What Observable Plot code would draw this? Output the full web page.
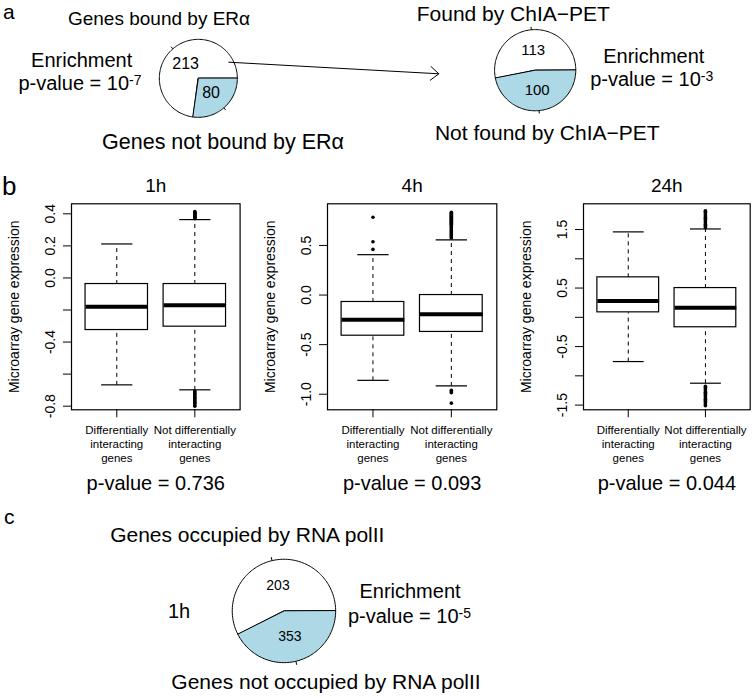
<!DOCTYPE html>
<html>
<head>
<meta charset="utf-8">
<script src="https://cdn.jsdelivr.net/npm/d3@7"></script>
<script src="https://cdn.jsdelivr.net/npm/@observablehq/plot@0.6"></script>
<style>
  html, body { margin: 0; padding: 0; background: #fff; }
  #fig { position: relative; width: 755px; height: 698px; overflow: hidden;
         font-family: "Liberation Sans", Arial, sans-serif; color: #000; background: #fff; }
  .lbl { position: absolute; white-space: nowrap; line-height: 1; }
  .sup { font-size: 14px; position: relative; top: -5px; }
  #fig svg { position: absolute; }
</style>
</head>
<body>
<div id="fig"></div>
<script>
// ---------------- data ----------------
const pieACounts = [213, 80];
const pieATexts = ["Genes bound by ERα", "Genes not bound by ERα"];
const pieBCounts = [113, 100];
const pieBTexts = ["Found by ChIA−PET", "Not found by ChIA−PET"];
const pieCCounts = [203, 353];          // numbers printed in the slices
const pieCShares = [0.574, 0.426];      // slice sizes as drawn in the figure
const pieCTexts = ["Genes occupied by RNA polII", "Genes not occupied by RNA polII"];
const pieCTime = "1h";
const sliceColors = ["white", "lightblue"];
const enrichmentExponents = ["-7", "-3", "-5"];

const timepoints = ["1h", "4h", "24h"];
const groups = ["Differentially\ninteracting\ngenes", "Not differentially\ninteracting\ngenes"];
const pValues = ["0.736", "0.093", "0.044"];
const yTitle = "Microarray gene expression";

// [lower whisker, Q1, median, Q3, upper whisker] for each group
const box1h  = [[-0.667, -0.325, -0.179, -0.038, 0.212], [-0.698, -0.304, -0.171, -0.038, 0.364]];
const box4h  = [[-0.860, -0.410, -0.248, -0.070, 0.407], [-0.916, -0.372, -0.194, 0.000, 0.557]];
const box24h = [[-0.756, 0.085, 0.280, 0.683, 1.460], [-1.126, -0.170, 0.165, 0.500, 1.510]];

// outliers for each group
const out1h = [[], [0.370, 0.374, 0.378, 0.382, 0.386, 0.390, 0.394, 0.398, 0.402, 0.406, 0.410, 0.414,
                    -0.705, -0.712, -0.720, -0.728, -0.736, -0.744, -0.752, -0.760, -0.768, -0.776, -0.784, -0.792, -0.800]];
const out4h = [[0.785, 0.537, 0.460],
               [0.575, 0.585, 0.595, 0.605, 0.615, 0.625, 0.635, 0.645, 0.655, 0.665, 0.675, 0.685, 0.695, 0.705,
                0.715, 0.725, 0.735, 0.745, 0.755, 0.765, 0.775, 0.785, 0.795, 0.805, 0.815, 0.825, 0.835,
                -0.960, -0.975, -0.985, -1.090]];
const out24h = [[], [1.53, 1.55, 1.57, 1.59, 1.61, 1.63, 1.65, 1.67, 1.69, 1.71, 1.73, 1.75, 1.77, 1.79, 1.81, 1.82,
                     -1.18, -1.20, -1.22, -1.24, -1.26, -1.28, -1.30, -1.32, -1.34, -1.36, -1.38, -1.40, -1.42, -1.44, -1.46, -1.48, -1.50, -1.51]];

const yTicks1h = [-0.8, -0.6, -0.4, -0.2, 0, 0.2, 0.4];
const yTickLabels1h = ["-0.8", "", "-0.4", "", "0.0", "0.2", "0.4"];
const yTicks4h = [-1.0, -0.5, 0, 0.5];
const yTickLabels4h = ["-1.0", "-0.5", "0.0", "0.5"];
const yTicks24h = [-1.5, -1.0, -0.5, 0, 0.5, 1.0, 1.5];
const yTickLabels24h = ["-1.5", "", "-0.5", "", "0.5", "", "1.5"];

// ---------------- layout ----------------
const FONT = "'Liberation Sans', Arial, sans-serif";
const fig = document.getElementById("fig");
const layout = {
  pieA: {cx: 198.3, cy: 78, r: 39, font: 16},
  pieB: {cx: 534.5, cy: 70, r: 40.6, font: 15},
  pieC: {cx: 283.3, cy: 610, r: 51.7, font: 14},
  arrow: {x1: 228.3, y1: 61.7, x2: 438.3, y2: 73.3},
  boxFrames: [[70.7, 239.3], [326.7, 496], [583.3, 750]],
  boxTop: 203.3, boxBottom: 409.3, boxSvgTop: 170, boxSvgHeight: 330,
  yDomains: [[-0.8225, 0.4625], [-1.157, 0.92], [-1.58, 1.94]],
  xDomain: [0.42, 2.58]
};

function place(node, left, top) {
  node.style.position = "absolute";
  node.style.left = left + "px";
  node.style.top = top + "px";
  fig.appendChild(node);
}
function addText(html, x, baseline, size, anchor = "middle") {
  const d = document.createElement("div");
  d.className = "lbl";
  d.innerHTML = html;
  d.style.fontSize = size + "px";
  d.style.top = (baseline - 0.847 * size) + "px";
  d.style.left = x + "px";
  if (anchor === "middle") d.style.transform = "translateX(-50%)";
  fig.appendChild(d);
}

// ---------------- pies ----------------
function piePlot(shares, counts, L) {
  const pad = 1.15, S = 2 * L.r * pad;
  const total = d3.sum(shares);
  let a0 = 0;
  const slices = shares.map((v, i) => {
    const a1 = a0 + 2 * Math.PI * v / total;
    const s = {a0, a1, mid: (a0 + a1) / 2, count: counts[i], color: sliceColors[i]};
    a0 = a1;
    return s;
  });
  const marks = slices.map(s => {
    const n = Math.max(2, Math.ceil((s.a1 - s.a0) / (2 * Math.PI) * 200));
    const pts = [{x: 0, y: 0}];
    for (let j = 0; j <= n; j++) {
      const a = s.a0 + (s.a1 - s.a0) * j / n;
      pts.push({x: Math.cos(a), y: Math.sin(a)});
    }
    return Plot.line(pts, {x: "x", y: "y", fill: s.color, stroke: "black", strokeWidth: 1, curve: "linear-closed"});
  });
  marks.push(Plot.link(slices, {
    x1: d => Math.cos(d.mid), y1: d => Math.sin(d.mid),
    x2: d => 1.07 * Math.cos(d.mid), y2: d => 1.07 * Math.sin(d.mid),
    stroke: "black", strokeWidth: 1
  }));
  marks.push(Plot.text(slices, {
    x: d => 0.5 * Math.cos(d.mid), y: d => 0.5 * Math.sin(d.mid),
    text: d => String(d.count), fontSize: L.font, fill: "black"
  }));
  const svg = Plot.plot({
    width: S, height: S, margin: 0,
    x: {domain: [-pad, pad], axis: null},
    y: {domain: [-pad, pad], axis: null},
    style: {fontFamily: FONT, background: "transparent", overflow: "visible", color: "black"},
    marks
  });
  place(svg, L.cx - S / 2, L.cy - S / 2);
}
piePlot(pieACounts, pieACounts, layout.pieA);
piePlot(pieBCounts, pieBCounts, layout.pieB);
piePlot(pieCShares, pieCCounts, layout.pieC);

// arrow between the first two pies
const arrowSvg = Plot.plot({
  width: 755, height: 698, margin: 0,
  x: {domain: [0, 755], range: [0, 755], axis: null},
  y: {domain: [0, 698], range: [0, 698], axis: null},
  style: {background: "transparent", overflow: "visible"},
  marks: [Plot.arrow([layout.arrow], {x1: "x1", y1: "y1", x2: "x2", y2: "y2",
    stroke: "black", strokeWidth: 1, headAngle: 80, headLength: 16})]
});
arrowSvg.style.pointerEvents = "none";
place(arrowSvg, 0, 0);

// ---------------- box plots ----------------
const panels = [
  {summary: box1h, outliers: out1h, ticks: yTicks1h, tickLabels: yTickLabels1h},
  {summary: box4h, outliers: out4h, ticks: yTicks4h, tickLabels: yTickLabels4h},
  {summary: box24h, outliers: out24h, ticks: yTicks24h, tickLabels: yTickLabels24h}
];
panels.forEach((P, k) => {
  const [fl, fr] = layout.boxFrames[k];
  const stats = P.summary.map((s, i) => ({pos: i + 1, lo: s[0], q1: s[1], med: s[2], q3: s[3], hi: s[4]}));
  const outs = P.outliers.flatMap((arr, i) => arr.map(v => ({pos: i + 1, v})));
  const lab = new Map(P.ticks.map((t, i) => [t, P.tickLabels[i]]));
  const H = layout.boxSvgHeight;
  const mt = layout.boxTop - layout.boxSvgTop;
  const mb = H - (layout.boxBottom - layout.boxSvgTop);
  const svg = Plot.plot({
    width: (fr - fl) + 76, height: H,
    marginLeft: 70, marginRight: 6, marginTop: mt, marginBottom: mb,
    x: {domain: layout.xDomain},
    y: {domain: layout.yDomains[k]},
    style: {fontFamily: FONT, background: "transparent", overflow: "visible", color: "black"},
    marks: [
      Plot.link(stats, {x1: "pos", x2: "pos", y1: "q3", y2: "hi", stroke: "black", strokeWidth: 1, strokeDasharray: "4,4"}),
      Plot.link(stats, {x1: "pos", x2: "pos", y1: "lo", y2: "q1", stroke: "black", strokeWidth: 1, strokeDasharray: "4,4"}),
      Plot.link(stats, {x1: d => d.pos - 0.2, x2: d => d.pos + 0.2, y1: "hi", y2: "hi", stroke: "black", strokeWidth: 1.2}),
      Plot.link(stats, {x1: d => d.pos - 0.2, x2: d => d.pos + 0.2, y1: "lo", y2: "lo", stroke: "black", strokeWidth: 1.2}),
      Plot.rect(stats, {x1: d => d.pos - 0.4, x2: d => d.pos + 0.4, y1: "q1", y2: "q3", fill: "white", stroke: "black", strokeWidth: 1.2}),
      Plot.link(stats, {x1: d => d.pos - 0.4, x2: d => d.pos + 0.4, y1: "med", y2: "med", stroke: "black", strokeWidth: 4}),
      Plot.dot(outs, {x: "pos", y: "v", r: 1.8, fill: "black", stroke: null}),
      Plot.frame({stroke: "black", strokeWidth: 1.2}),
      Plot.axisY({ticks: P.ticks, tickFormat: d => lab.get(d) ?? "", tickRotate: -90, tickSize: 8, tickPadding: 9,
                  fontSize: 14, label: null}),
      Plot.axisX({ticks: [1, 2], tickFormat: d => groups[d - 1], tickSize: 8, tickPadding: 6,
                  fontSize: 11.5, lineHeight: 1.22, label: null}),
      Plot.text([timepoints[k]], {text: d => d, frameAnchor: "top", lineAnchor: "bottom", dy: -11.6, fontSize: 19}),
      Plot.text([pValues[k]], {text: d => "p-value = " + d, frameAnchor: "bottom", lineAnchor: "bottom", dy: 80.7, fontSize: 20}),
      Plot.text([yTitle], {text: d => d, frameAnchor: "left", textAnchor: "middle", lineAnchor: "middle",
                           rotate: -90, dx: -57, fontSize: 14})
    ]
  });
  place(svg, fl - 70, layout.boxSvgTop);
});

// ---------------- annotation texts ----------------
addText("a", 3, 18.5, 21, "start");
addText(pieATexts[0], 159, 25, 19);
addText("Enrichment", 81.7, 66.7, 20);
addText(`p-value = 10<span class="sup">${enrichmentExponents[0]}</span>`, 80, 90, 20);
addText(pieATexts[1], 223, 150, 21.5);

addText(pieBTexts[0], 513.3, 20.7, 21);
addText("Enrichment", 653.8, 63.3, 20);
addText(`p-value = 10<span class="sup">${enrichmentExponents[1]}</span>`, 651.7, 86, 20);
addText(pieBTexts[1], 547.3, 140, 21);

addText("b", 2, 195, 26, "start");

addText("c", 4, 523.3, 21, "start");
addText(pieCTexts[0], 247.3, 541.7, 21);
addText(pieCTime, 179, 618.3, 20);
addText("Enrichment", 410, 598.3, 20);
addText(`p-value = 10<span class="sup">${enrichmentExponents[2]}</span>`, 409.5, 622.7, 20);
addText(pieCTexts[1], 326, 688.3, 21);
</script>
</body>
</html>
